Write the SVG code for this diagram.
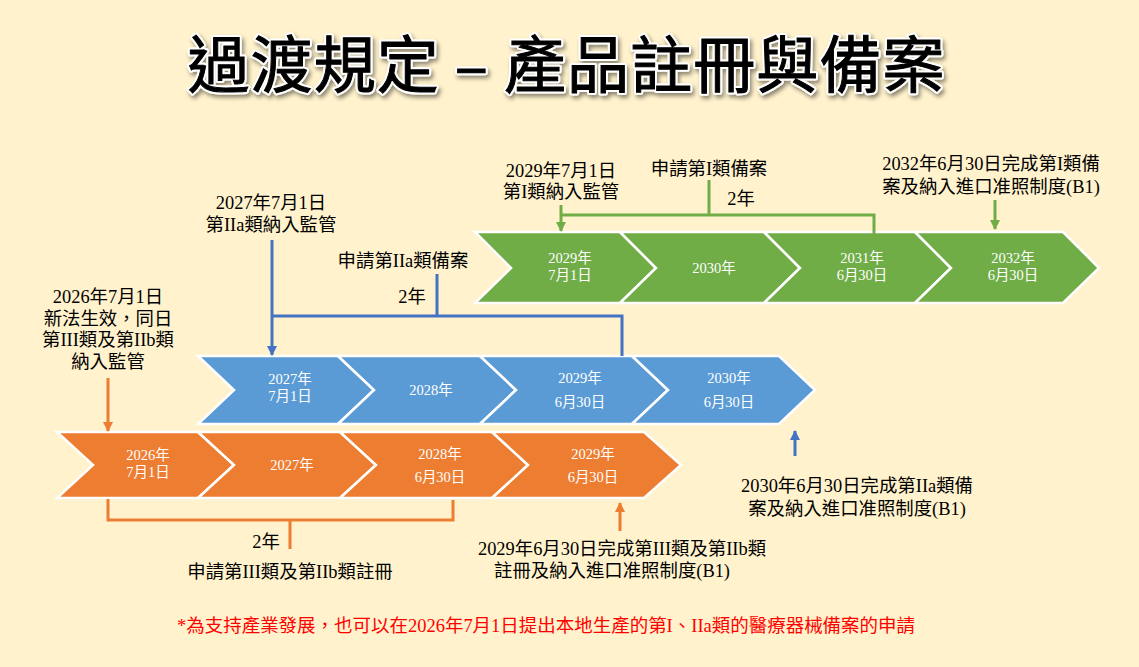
<svg xmlns="http://www.w3.org/2000/svg" width="1139" height="667" viewBox="0 0 1139 667">
<style>
.bg{fill:#FFF2CC}
.chev{stroke:#FFFFFF;stroke-width:2.5;stroke-linejoin:miter}
.og{fill:#ED7D31}.bl{fill:#5B9BD5}.gr{fill:#70AD47}
.ct{font-family:"Liberation Serif","Noto Sans CJK TC",serif;font-size:14.5px;fill:#FFFFFF;text-anchor:middle}
.lb{font-family:"Liberation Serif","Noto Sans CJK TC",serif;font-size:18.4px;fill:#000000;text-anchor:middle}
.fn{font-family:"Liberation Serif","Noto Sans CJK TC",serif;font-size:18px;fill:#FF0000}
.title{font-family:"Noto Sans CJK TC",sans-serif;font-size:62px;font-weight:400;fill:#000000;stroke:#000000;stroke-width:1;text-anchor:middle}
.halo{font-family:"Noto Sans CJK TC",sans-serif;font-size:62px;font-weight:400;fill:#FFFFFF;stroke:#FFFFFF;stroke-width:5;stroke-linejoin:round;text-anchor:middle}
.lo{stroke:#ED7D31;stroke-width:3;fill:none}
.lbl{stroke:#4472C4;stroke-width:3;fill:none}
.lg{stroke:#70AD47;stroke-width:3;fill:none}
</style>
<defs>
<marker id="ab" markerWidth="10" markerHeight="10" refX="9" refY="5" orient="auto" markerUnits="userSpaceOnUse" viewBox="0 0 10 10"><path d="M0,0 L10,5 L0,10 Z" fill="#4472C4"/></marker>
<marker id="ag" markerWidth="10" markerHeight="10" refX="9" refY="5" orient="auto" markerUnits="userSpaceOnUse" viewBox="0 0 10 10"><path d="M0,0 L10,5 L0,10 Z" fill="#70AD47"/></marker>
<marker id="aor" markerWidth="10" markerHeight="10" refX="9" refY="5" orient="auto" markerUnits="userSpaceOnUse" viewBox="0 0 10 10"><path d="M0,0 L10,5 L0,10 Z" fill="#ED7D31"/></marker>
<filter id="sh" x="-5%" y="-20%" width="110%" height="150%">
<feGaussianBlur in="SourceAlpha" stdDeviation="2"/>
<feOffset dx="2" dy="3" result="b"/>
<feFlood flood-color="#000000" flood-opacity="0.45"/>
<feComposite in2="b" operator="in"/>
<feMerge><feMergeNode/><feMergeNode in="SourceGraphic"/></feMerge>
</filter>
</defs>
<rect class="bg" x="0" y="0" width="1139" height="667"/>

<g id="title">
<text class="halo" x="566" y="88" filter="url(#sh)" textLength="757" lengthAdjust="spacing">過渡規定 – 產品註冊與備案</text>
<text class="title" x="566" y="88" textLength="757" lengthAdjust="spacing">過渡規定 – 產品註冊與備案</text>
</g>

<!-- Green row -->
<g id="g1"><path class="chev gr" d="M475,232 H620 L656,268 L620,303 H475 L511,268 Z"/><text class="ct" x="570" y="263">2029年</text><text class="ct" x="570" y="280">7月1日</text></g>
<g id="g2"><path class="chev gr" d="M620,232 H764 L800,268 L764,303 H620 L656,268 Z"/><text class="ct" x="714" y="273">2030年</text></g>
<g id="g3"><path class="chev gr" d="M764,232 H915 L951,268 L915,303 H764 L800,268 Z"/><text class="ct" x="862" y="263">2031年</text><text class="ct" x="862" y="280">6月30日</text></g>
<g id="g4"><path class="chev gr" d="M915,232 H1063 L1099,268 L1063,303 H915 L951,268 Z"/><text class="ct" x="1013" y="263">2032年</text><text class="ct" x="1013" y="280">6月30日</text></g>

<!-- Blue row -->
<g id="b1"><path class="chev bl" d="M198,356 H338 L374,390 L338,424 H198 L234,390 Z"/><text class="ct" x="290" y="384">2027年</text><text class="ct" x="290" y="401">7月1日</text></g>
<g id="b2"><path class="chev bl" d="M338,356 H480 L516,390 L480,424 H338 L374,390 Z"/><text class="ct" x="431" y="395">2028年</text></g>
<g id="b3"><path class="chev bl" d="M480,356 H632 L668,390 L632,424 H480 L516,390 Z"/><text class="ct" x="580" y="383">2029年</text><text class="ct" x="580" y="407">6月30日</text></g>
<g id="b4"><path class="chev bl" d="M632,356 H779 L815,390 L779,424 H632 L668,390 Z"/><text class="ct" x="729" y="383">2030年</text><text class="ct" x="729" y="407">6月30日</text></g>

<!-- Orange row -->
<g id="o1"><path class="chev og" d="M57,432 H198 L234,465 L198,498 H57 L93,465 Z"/><text class="ct" x="148" y="460">2026年</text><text class="ct" x="148" y="477">7月1日</text></g>
<g id="o2"><path class="chev og" d="M198,432 H340 L376,465 L340,498 H198 L234,465 Z"/><text class="ct" x="292" y="470">2027年</text></g>
<g id="o3"><path class="chev og" d="M340,432 H492 L528,465 L492,498 H340 L376,465 Z"/><text class="ct" x="440" y="459">2028年</text><text class="ct" x="440" y="482">6月30日</text></g>
<g id="o4"><path class="chev og" d="M492,432 H644 L681,465 L644,498 H492 L528,465 Z"/><text class="ct" x="593" y="459">2029年</text><text class="ct" x="593" y="482">6月30日</text></g>

<g id="connectors">
<path class="lg" d="M709,180 V215"/>
<path class="lg" d="M561,215 H874 V240"/>
<path class="lg" d="M561,205 V231" marker-end="url(#ag)"/>
<path class="lg" d="M995,200 V229" marker-end="url(#ag)"/>
<path class="lbl" d="M272,240 V355" marker-end="url(#ab)"/>
<path class="lbl" d="M437,274 V316"/>
<path class="lbl" d="M272,316 H622 V356"/>
<path class="lbl" d="M795,456 V431" marker-end="url(#ab)"/>
<path class="lo" d="M108,378 V431" marker-end="url(#aor)"/>
<path class="lo" d="M108,499 V520 H453 V500"/>
<path class="lo" d="M290,520 V549"/>
<path class="lo" d="M620,531 V503" marker-end="url(#aor)"/>
</g>

<g id="labels">
<text class="lb" x="561" y="177">2029年7月1日</text>
<text class="lb" x="561" y="198">第I類納入監管</text>
<text class="lb" x="709" y="175">申請第I類備案</text>
<text class="lb" x="741" y="205">2年</text>
<text class="lb" x="991" y="170">2032年6月30日完成第I類備</text>
<text class="lb" x="991" y="193">案及納入進口准照制度(B1)</text>

<text class="lb" x="271" y="209">2027年7月1日</text>
<text class="lb" x="271" y="231">第IIa類納入監管</text>
<text class="lb" x="403" y="267">申請第IIa類備案</text>
<text class="lb" x="412" y="303">2年</text>
<text class="lb" x="857" y="492">2030年6月30日完成第IIa類備</text>
<text class="lb" x="857" y="515">案及納入進口准照制度(B1)</text>

<text class="lb" x="108" y="303">2026年7月1日</text>
<text class="lb" x="108" y="325">新法生效，同日</text>
<text class="lb" x="108" y="346">第III類及第IIb類</text>
<text class="lb" x="108" y="368">納入監管</text>
<text class="lb" x="266" y="548">2年</text>
<text class="lb" x="290" y="578">申請第III類及第IIb類註冊</text>
<text class="lb" x="622" y="555">2029年6月30日完成第III類及第IIb類</text>
<text class="lb" x="612" y="577">註冊及納入進口准照制度(B1)</text>
</g>

<g id="footnote">
<text class="fn" x="177" y="632" textLength="738" lengthAdjust="spacingAndGlyphs">*為支持產業發展，也可以在2026年7月1日提出本地生產的第I、IIa類的醫療器械備案的申請</text>
</g>
</svg>
